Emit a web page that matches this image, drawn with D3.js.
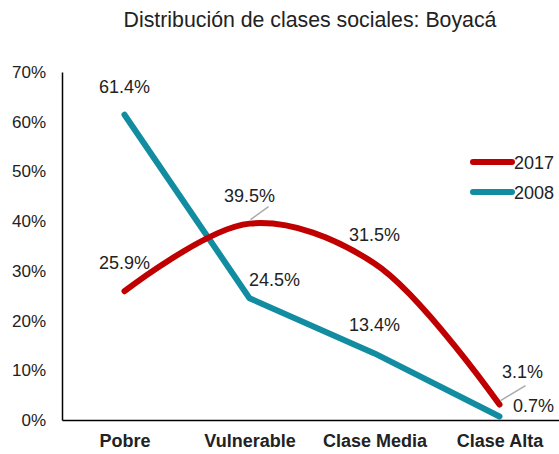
<!DOCTYPE html>
<html><head><meta charset="utf-8">
<script src="https://cdn.jsdelivr.net/npm/d3@7"></script>
<style>body{margin:0;background:#fff}svg{display:block;font-family:"Liberation Sans",Arial,sans-serif}</style>
</head><body>
<script>
const categories = ["Pobre","Vulnerable","Clase Media","Clase Alta"];
const values2017 = [25.9,39.5,31.5,3.1];
const values2008 = [61.4,24.5,13.4,0.7];
const yTicks = [0,10,20,30,40,50,60,70];
const seriesNames = ["2017","2008"];

const W=559,H=454;
const svg=d3.select("body").append("svg").attr("width",W).attr("height",H);
const x=d3.scalePoint().domain(categories).range([62,562]).padding(0.5);
const y=d3.scaleLinear().domain([0,70]).range([420,72]);
const colors={"2017":"#C00000","2008":"#118CA0"};
const FF="Liberation Sans, Arial, sans-serif";

svg.append("text").attr("x",310).attr("y",27).attr("text-anchor","middle")
  .attr("font-size",21.3).attr("font-family",FF).attr("fill","#222").text("Distribución de clases sociales: Boyacá");

// y axis
const ya=svg.append("g").attr("transform","translate(62,0)")
  .call(d3.axisLeft(y).tickValues(yTicks).tickSize(0).tickFormat(d=>d+"%").tickPadding(16));
ya.select(".domain").attr("stroke","#000").attr("stroke-width",1.5);
ya.selectAll("text").attr("font-size",17).attr("fill","#222").attr("font-family",FF);

// x axis
const xa=svg.append("g").attr("transform","translate(0,420)")
  .call(d3.axisBottom(x).tickSize(0).tickPadding(14));
xa.select(".domain").attr("stroke","#000").attr("stroke-width",1.5);
xa.selectAll("text").attr("font-size",18).attr("font-weight","bold").attr("fill","#222").attr("font-family",FF);

const line2017=d3.line().x((d,i)=>x(categories[i])).y(d=>y(d)).curve(d3.curveCatmullRom.alpha(0.5));
const line2008=d3.line().x((d,i)=>x(categories[i])).y(d=>y(d));

svg.append("path").datum(values2008).attr("d",line2008).attr("fill","none")
  .attr("stroke",colors["2008"]).attr("stroke-width",6).attr("stroke-linecap","round").attr("stroke-linejoin","round");
svg.append("path").datum(values2017).attr("d",line2017).attr("fill","none")
  .attr("stroke",colors["2017"]).attr("stroke-width",6).attr("stroke-linecap","round").attr("stroke-linejoin","round");

// labels
const fmt=v=>v.toFixed(1)+"%";
const lab2017=[[0,-22],[0,-22],[0,-22],[23,-27]];
const lab2008=[[0,-22],[25,-12],[0,-22],[34,-5]];
function addLabels(vals,offs){
  vals.forEach((v,i)=>{
    const px=x(categories[i]),py=y(v);
    svg.append("text").attr("x",px+offs[i][0]).attr("y",py+offs[i][1]).attr("text-anchor","middle")
      .attr("font-size",18).attr("font-family",FF).attr("fill","#222").text(fmt(v));
  });
}
addLabels(values2017,lab2017);
addLabels(values2008,lab2008);
// leader lines
const l1x=x(categories[1]),l1y=y(values2017[1]);
svg.append("line").attr("x1",l1x+1).attr("y1",l1y-4).attr("x2",l1x+19).attr("y2",l1y-17).attr("stroke","#aaa").attr("stroke-width",1.5);
const l3x=x(categories[3]),l3y=y(values2017[3]);
svg.append("line").attr("x1",l3x+1).attr("y1",l3y-4).attr("x2",l3x+26).attr("y2",l3y-19).attr("stroke","#aaa").attr("stroke-width",1.5);

// legend
seriesNames.forEach((s,i)=>{
  const ly=162+i*30;
  svg.append("line").attr("x1",473).attr("x2",512).attr("y1",ly).attr("y2",ly)
    .attr("stroke",colors[s]).attr("stroke-width",6).attr("stroke-linecap","round");
  svg.append("text").attr("x",514).attr("y",ly+7).attr("font-size",18).attr("font-family",FF).attr("fill","#222").text(s);
});
</script>
</body></html>
